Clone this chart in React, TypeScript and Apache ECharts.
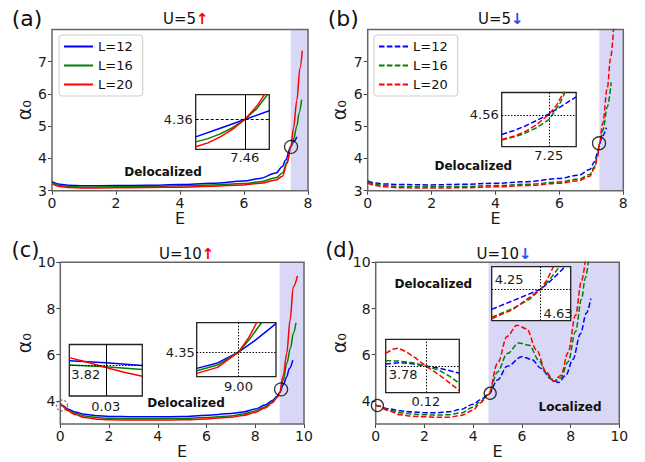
import React, { useEffect, useRef } from 'react';
import * as echarts from 'echarts';

type P = [number, number][];

// ---------- Panel (a): U=5 up ----------
const A_L12: P = [[0,3.28],[0.25,3.2],[0.5,3.17],[1,3.15],[2,3.16],[3,3.17],[4,3.19],[5,3.23],[6,3.3],[6.5,3.38],[7,3.55],[7.2,3.75],[7.3,3.95],[7.46,4.36],[7.55,4.52],[7.65,4.67]];
const A_L16: P = [[0,3.25],[0.25,3.16],[0.5,3.13],[1,3.11],[2,3.12],[3,3.13],[4,3.15],[5,3.18],[6,3.22],[6.5,3.28],[7,3.4],[7.2,3.55],[7.35,3.9],[7.46,4.36],[7.55,4.6],[7.65,5.0],[7.72,5.4],[7.8,5.82]];
const A_L20: P = [[0,3.22],[0.25,3.13],[0.5,3.1],[1,3.08],[2,3.09],[3,3.1],[4,3.11],[5,3.14],[6,3.18],[6.5,3.23],[7,3.33],[7.2,3.45],[7.35,3.85],[7.46,4.36],[7.55,4.95],[7.65,5.8],[7.75,6.8],[7.82,7.34]];
// ---------- Panel (b): U=5 down ----------
const B_L12: P = [[0,3.3],[0.25,3.24],[0.5,3.21],[1,3.19],[2,3.18],[3,3.2],[4,3.23],[5,3.28],[6,3.38],[6.6,3.48],[6.95,3.66],[7.1,3.9],[7.2,4.2],[7.25,4.45],[7.35,4.7],[7.47,4.95]];
const B_L16: P = [[0,3.27],[0.25,3.2],[0.5,3.16],[1,3.13],[2,3.12],[3,3.13],[4,3.16],[5,3.2],[6,3.27],[6.6,3.36],[6.95,3.5],[7.1,3.75],[7.2,4.1],[7.25,4.45],[7.36,4.87],[7.5,5.6],[7.62,6.36]];
const B_L20: P = [[0,3.24],[0.25,3.16],[0.5,3.12],[1,3.09],[2,3.08],[3,3.09],[4,3.12],[5,3.16],[6,3.23],[6.6,3.31],[6.95,3.45],[7.1,3.7],[7.2,4.05],[7.25,4.45],[7.36,5.1],[7.5,6.2],[7.6,7.1],[7.7,8.1]];
// ---------- Panel (c): U=10 up ----------
const C_L12: P = [[0,3.88],[0.1,3.8],[0.3,3.65],[0.6,3.52],[1,3.42],[1.5,3.36],[2,3.33],[3,3.31],[4,3.31],[5,3.32],[6,3.38],[7,3.45],[7.5,3.52],[8,3.65],[8.4,3.82],[8.7,4.02],[8.9,4.2],[9.0,4.35],[9.15,4.7],[9.29,5.04],[9.4,5.4],[9.54,5.76]];
const C_L16: P = [[0,3.86],[0.1,3.77],[0.3,3.6],[0.6,3.46],[1,3.35],[1.5,3.28],[2,3.25],[3,3.23],[4,3.23],[5,3.24],[6,3.28],[7,3.35],[7.5,3.43],[8,3.56],[8.4,3.74],[8.7,3.96],[8.9,4.17],[9.0,4.35],[9.15,4.9],[9.29,5.62],[9.45,6.3],[9.56,6.92],[9.67,7.38]];
const C_L20: P = [[0,3.9],[0.1,3.78],[0.3,3.58],[0.6,3.41],[1,3.28],[1.5,3.21],[2,3.18],[3,3.17],[4,3.17],[5,3.18],[6,3.22],[7,3.29],[7.5,3.37],[8,3.5],[8.4,3.69],[8.7,3.92],[8.9,4.15],[9.0,4.35],[9.15,5.1],[9.29,6.05],[9.43,7.5],[9.56,8.93],[9.73,9.41]];
// ---------- Panel (d): U=10 down ----------
const D_L12: P = [[0,3.82],[0.12,3.78],[0.5,3.66],[1,3.57],[1.5,3.52],[2,3.49],[2.5,3.49],[3,3.53],[3.5,3.63],[4,3.85],[4.3,4.05],[4.63,4.28],[5.0,4.9],[5.4,5.5],[6.0,5.91],[6.4,5.8],[6.8,5.4],[7.2,4.95],[7.5,4.8],[7.8,5.1],[8.1,5.8],[8.4,6.9],[8.65,7.8],[8.83,8.43]];
const D_L16: P = [[0,3.82],[0.12,3.78],[0.5,3.62],[1,3.49],[1.5,3.43],[2,3.4],[2.5,3.39],[3,3.4],[3.5,3.48],[4,3.72],[4.3,3.98],[4.63,4.28],[5.0,5.25],[5.4,6.05],[5.88,6.51],[6.3,6.41],[6.7,5.76],[7.0,5.19],[7.3,4.85],[7.6,5.0],[7.9,5.7],[8.2,7.0],[8.45,8.4],[8.6,9.3],[8.75,10.2]];
const D_L20: P = [[0,3.82],[0.12,3.78],[0.5,3.58],[1,3.4],[1.5,3.34],[2,3.31],[2.5,3.29],[3,3.29],[3.5,3.37],[4,3.6],[4.3,3.92],[4.63,4.28],[5.0,5.62],[5.4,6.8],[5.8,7.28],[6.2,7.12],[6.6,6.2],[7.0,5.26],[7.3,4.86],[7.6,5.1],[7.9,6.1],[8.2,7.7],[8.45,9.2],[8.65,10.5]];

// ---------- Insets ----------
const AI_L12: P = [[7.38,4.29],[7.42,4.325],[7.46,4.36],[7.50,4.395]];
const AI_L16: P = [[7.38,4.27],[7.40,4.283],[7.42,4.302],[7.44,4.327],[7.46,4.36],[7.48,4.405],[7.50,4.47]];
const AI_L20: P = [[7.38,4.25],[7.40,4.266],[7.42,4.29],[7.44,4.32],[7.46,4.36],[7.48,4.415],[7.50,4.49]];
const BI_L12: P = [[7.13,4.437],[7.16,4.46],[7.19,4.49],[7.22,4.525],[7.25,4.565],[7.28,4.61],[7.32,4.673]];
const BI_L16: P = [[7.13,4.402],[7.16,4.42],[7.19,4.445],[7.22,4.48],[7.25,4.53],[7.265,4.58],[7.28,4.64],[7.295,4.72]];
const BI_L20: P = [[7.13,4.406],[7.16,4.425],[7.19,4.455],[7.22,4.5],[7.25,4.562],[7.27,4.62],[7.29,4.71]];
const CI1_L12: P = [[0,3.837],[0.03,3.829],[0.06,3.818]];
const CI1_L16: P = [[0,3.82],[0.03,3.814],[0.06,3.803]];
const CI1_L20: P = [[0,3.849],[0.015,3.831],[0.03,3.811],[0.045,3.792],[0.06,3.777]];
const CI2_L12: P = [[8.90,4.185],[8.95,4.24],[9.0,4.35],[9.04,4.47],[9.09,4.64]];
const CI2_L16: P = [[8.90,4.161],[8.95,4.219],[9.0,4.35],[9.03,4.5],[9.055,4.65]];
const CI2_L20: P = [[8.90,4.134],[8.95,4.195],[9.0,4.35],[9.025,4.5],[9.045,4.66]];
const DI1_L12: P = [[0,3.789],[0.04,3.795],[0.08,3.79],[0.12,3.78],[0.16,3.77],[0.19,3.76],[0.22,3.747]];
const DI1_L16: P = [[0,3.804],[0.04,3.802],[0.08,3.795],[0.12,3.78],[0.16,3.76],[0.19,3.735],[0.22,3.702]];
const DI1_L20: P = [[0,3.837],[0.02,3.855],[0.038,3.86],[0.06,3.845],[0.09,3.815],[0.12,3.78],[0.16,3.74],[0.19,3.705],[0.22,3.67]];
const DI2_L12: P = [[4.50,4.09],[4.565,4.17],[4.63,4.25],[4.665,4.34],[4.695,4.43]];
const DI2_L16: P = [[4.50,4.027],[4.557,4.098],[4.60,4.17],[4.63,4.25],[4.655,4.33],[4.68,4.43]];
const DI2_L20: P = [[4.50,4.016],[4.557,4.09],[4.593,4.17],[4.63,4.25],[4.648,4.33],[4.664,4.43]];

// crossing points (inset tick labels) [E, alpha]
const A_CROSS = [7.46, 4.36];
const B_CROSS = [7.25, 4.56];
const C_CROSS1 = [0.03, 3.82];
const C_CROSS2 = [9.0, 4.35];
const D_CROSS1 = [0.12, 3.78];
const D_CROSS2 = [4.63, 4.25];

// mobility edges (shaded from here)
const EDGES = [7.46, 7.25, 9.0, 4.63];
// circled points
const A_CIRC: P = [[7.47, 4.36]];
const B_CIRC: P = [[7.24, 4.47]];
const C_CIRC: P = [[9.06, 4.5]];
const C_CIRC_DASH: P = [[0.07, 3.8]];
const D_CIRC: P = [[0.07, 3.8], [4.7, 4.33]];

const NAMES = ['L=12', 'L=16', 'L=20'];
const NAMES_DOWN = ['L=12↓', 'L=16↓', 'L=20↓'];
const TOP_YTICKS = [3, 4, 5, 6, 7];
const BOT_YTICKS = [4, 6, 8, 10];

const FONT = 'DejaVu Sans';
const COLORS = ['#0000ff', '#008000', '#ff0000'];
const SHADE = '#d8d8f6';
const DASH = [5.5, 2.4];
const DOT = [1.5, 1.6];

function lineS(name: string, data: P, color: string, gi: number, dashed: boolean, z: number, extra: any = {}) {
  return {
    type: 'line', name, data, xAxisIndex: gi, yAxisIndex: gi,
    symbol: 'none', showSymbol: false, smooth: 0.35, smoothMonotone: 'x',
    lineStyle: { color, width: 1.5, type: dashed ? DASH : 'solid' },
    itemStyle: { color }, z, clip: true, silent: true, animation: false,
    ...extra,
  };
}

function buildOption() {
  const grids: any[] = [
    { left: 52, top: 29.5, width: 256, height: 161.2 },
    { left: 367.7, top: 29.5, width: 255.6, height: 161.2 },
    { left: 60.3, top: 262.3, width: 243.7, height: 161.7 },
    { left: 375.7, top: 262.3, width: 243.6, height: 161.7 },
    { left: 195.7, top: 94.7, width: 73.6, height: 54.6 },
    { left: 501.7, top: 92.5, width: 74.5, height: 54.2 },
    { left: 69.3, top: 344.5, width: 73, height: 51.5 },
    { left: 196.7, top: 322.7, width: 79.3, height: 54 },
    { left: 385.7, top: 339.3, width: 73.6, height: 53.4 },
    { left: 491.7, top: 266.7, width: 79, height: 54 },
  ].map((g, i) => i < 4
    ? { ...g, show: true, borderColor: '#666', borderWidth: 1.5, backgroundColor: 'transparent', z: 2 }
    : { ...g, show: true, borderColor: '#222', borderWidth: 1.3, backgroundColor: '#fff', z: 10 });

  const lab = { fontSize: 14, color: '#1a1a1a', fontFamily: FONT };
  const mainX = (gi: number, max: number) => ({
    gridIndex: gi, type: 'value', min: 0, max, interval: 2,
    axisLine: { show: false }, splitLine: { show: false },
    axisTick: { show: true, length: 4, lineStyle: { color: '#444', width: 1 } },
    axisLabel: { ...lab, margin: 5 },
    name: 'E', nameLocation: 'middle', nameGap: 19,
    nameTextStyle: { fontSize: 16, color: '#1a1a1a', fontFamily: FONT },
  });
  const mainY = (gi: number, max: number, ticks: number[]) => ({
    gridIndex: gi, type: 'value', min: 3, max,
    axisLine: { show: false }, splitLine: { show: false },
    axisTick: { show: true, length: 4, lineStyle: { color: '#444', width: 1 }, customValues: ticks },
    axisLabel: { ...lab, margin: 5, customValues: ticks },
    name: 'α₀', nameLocation: 'middle', nameGap: 19,
    nameTextStyle: { fontSize: 19, color: '#1a1a1a', fontFamily: FONT },
  });
  const insetX = (gi: number, min: number, max: number, v: number, lbl: any = {}) => ({
    gridIndex: gi, type: 'value', min, max, z: 12,
    axisLine: { show: false }, splitLine: { show: false }, axisTick: { show: false },
    axisLabel: { fontSize: 13, color: '#1a1a1a', fontFamily: FONT, margin: 2, customValues: [v], formatter: (x: number) => x.toFixed(2), ...lbl },
  });
  const insetY = (gi: number, min: number, max: number, v: number, lbl: any = {}) => ({
    gridIndex: gi, type: 'value', min, max, z: 12,
    axisLine: { show: false }, splitLine: { show: false }, axisTick: { show: false },
    axisLabel: { fontSize: 13, color: '#1a1a1a', fontFamily: FONT, margin: 3, customValues: [v], formatter: (x: number) => x.toFixed(2), ...lbl },
  });

  const xAxis = [
    mainX(0, 8), mainX(1, 8), mainX(2, 10), mainX(3, 10),
    insetX(4, 7.38, 7.50, A_CROSS[0]),
    insetX(5, 7.13, 7.32, B_CROSS[0]),
    insetX(6, 0, 0.06, C_CROSS1[0], { margin: 4 }),
    insetX(7, 8.90, 9.09, C_CROSS2[0], { margin: 3 }),
    insetX(8, 0, 0.22, D_CROSS1[0]),
    insetX(9, 4.50, 4.71, D_CROSS2[0], { inside: true, align: 'left', padding: [0, 0, 0, 3], margin: 1 }),
  ];
  const yAxis = [
    mainY(0, 8, TOP_YTICKS), mainY(1, 8, TOP_YTICKS), mainY(2, 10, BOT_YTICKS), mainY(3, 10, BOT_YTICKS),
    insetY(4, 4.24, 4.46, A_CROSS[1]),
    insetY(5, 4.36, 4.70, B_CROSS[1]),
    insetY(6, 3.70, 3.90, C_CROSS1[1], { inside: true, verticalAlign: 'top', padding: [3, 0, 0, 0], margin: 2 }),
    insetY(7, 4.10, 4.65, C_CROSS2[1], { margin: 2 }),
    insetY(8, 3.66, 3.90, D_CROSS1[1], { inside: true, verticalAlign: 'top', padding: [2, 0, 0, 0], margin: 3 }),
    insetY(9, 4.00, 4.43, D_CROSS2[1], { inside: true, verticalAlign: 'bottom', padding: [0, 0, 3, 0], margin: 3 }),
  ];

  const series: any[] = [];
  // shading
  const shadeMax = [8, 8, 10, 10];
  for (let i = 0; i < 4; i++) {
    series.push({
      type: 'line', data: [], xAxisIndex: i, yAxisIndex: i, z: 1, silent: true,
      markArea: { silent: true, z: 1, itemStyle: { color: SHADE }, data: [[{ xAxis: EDGES[i] }, { xAxis: shadeMax[i] }]] },
    });
  }
  const mains: [P[], string[], boolean][] = [
    [[A_L12, A_L16, A_L20], NAMES, false],
    [[B_L12, B_L16, B_L20], NAMES_DOWN, true],
    [[C_L12, C_L16, C_L20], NAMES, false],
    [[D_L12, D_L16, D_L20], NAMES_DOWN, true],
  ];
  mains.forEach(([sets, names, dashed], gi) => {
    sets.forEach((d, k) => series.push(lineS(names[k], d, COLORS[k], gi, dashed, 3)));
  });

  const insets: [number, P[], boolean, number[], any, any][] = [
    [4, [AI_L12, AI_L16, AI_L20], false, A_CROSS, 'solid', [3, 2]],
    [5, [BI_L12, BI_L16, BI_L20], true, B_CROSS, DOT, DOT],
    [6, [CI1_L12, CI1_L16, CI1_L20], false, C_CROSS1, 'solid', DOT],
    [7, [CI2_L12, CI2_L16, CI2_L20], false, C_CROSS2, DOT, DOT],
    [8, [DI1_L12, DI1_L16, DI1_L20], true, D_CROSS1, DOT, DOT],
    [9, [DI2_L12, DI2_L16, DI2_L20], true, D_CROSS2, DOT, DOT],
  ];
  insets.forEach(([gi, sets, dashed, cross, vType, hType]) => {
    sets.forEach((d, k) => {
      const extra: any = { smooth: false };
      if (k === 0) {
        extra.markLine = {
          silent: true, symbol: 'none', animation: false, z: 13, label: { show: false },
          lineStyle: { color: '#000', width: 1 },
          data: [
            { xAxis: cross[0], lineStyle: { color: '#000', width: 1, type: vType } },
            { yAxis: cross[1], lineStyle: { color: '#000', width: 1, type: hType } },
          ],
        };
      }
      series.push(lineS('inset' + gi + '-' + k, d, COLORS[k], gi, dashed, 11, extra));
    });
  });

  const circ = (gi: number, data: P, dashed = false, size = 13, color = '#000') => ({
    type: 'scatter', data, xAxisIndex: gi, yAxisIndex: gi, z: 5, silent: true,
    symbol: 'circle', symbolSize: size,
    itemStyle: { color: 'rgba(0,0,0,0)', borderColor: color, borderWidth: 1.3, borderType: dashed ? [2, 2] : 'solid' },
  });
  series.push(circ(0, A_CIRC), circ(1, B_CIRC), circ(2, C_CIRC), circ(2, C_CIRC_DASH, true, 11, '#555'), circ(3, D_CIRC, false, 12));

  const legendBase = {
    orient: 'vertical', itemWidth: 29, itemHeight: 14, itemGap: 6, padding: [5, 10, 5, 4],
    borderColor: '#cccccc', borderWidth: 1, borderRadius: 3, backgroundColor: 'rgba(255,255,255,0.85)',
    itemStyle: { opacity: 0 },
    textStyle: { fontSize: 13, fontFamily: FONT, color: '#111' }, selectedMode: false, z: 20,
  };
  const legend = [
    { ...legendBase, data: NAMES, left: 59, top: 35 },
    { ...legendBase, data: NAMES_DOWN, left: 374, top: 35, formatter: (n: string) => n.replace('↓', '') },
  ];

  const txt = (x: number, y: number, text: string, font: string) => ({
    type: 'text', x, y, z: 30, silent: true,
    style: { text, font, fill: '#111', align: 'center', verticalAlign: 'middle' },
  });
  const title = (x: number, y: number, main: string, arrow: string, col: string) => ({
    type: 'text', x, y, z: 30, silent: true,
    style: {
      text: `{n|${main}}{r|${arrow}}`, align: 'center', verticalAlign: 'middle',
      rich: {
        n: { fontSize: 15, fontFamily: FONT, fill: '#111' },
        r: { fontSize: 15, fontFamily: FONT, fill: col, fontWeight: 'bold' },
      },
    },
  });
  const graphic = [
    txt(27, 18, '(a)', `22px ${FONT}`),
    txt(343.2, 18, '(b)', `22px ${FONT}`),
    txt(25.5, 250, '(c)', `21px ${FONT}`),
    txt(340, 250, '(d)', `21px ${FONT}`),
    title(185.8, 19, 'U=5', '↑', '#ff0000'),
    title(500.8, 19, 'U=5', '↓', '#1f4fff'),
    title(186.7, 253.5, 'U=10', '↑', '#ff0000'),
    title(504, 253.5, 'U=10', '↓', '#1f4fff'),
    txt(163, 172, 'Delocalized', `bold 12px ${FONT}`),
    txt(473.3, 165.7, 'Delocalized', `bold 12px ${FONT}`),
    txt(186, 403.3, 'Delocalized', `bold 12px ${FONT}`),
    txt(433.3, 284, 'Delocalized', `bold 12px ${FONT}`),
    txt(570, 407.3, 'Localized', `bold 12px ${FONT}`),
  ];

  return {
    animation: false,
    backgroundColor: '#ffffff',
    textStyle: { fontFamily: FONT },
    grid: grids, xAxis, yAxis, series, legend, graphic,
  };
}

export default function App() {
  const ref = useRef<HTMLDivElement>(null);
  useEffect(() => {
    if (!ref.current) return;
    const chart = echarts.init(ref.current, undefined, { renderer: 'svg' });
    chart.setOption(buildOption() as any);
    return () => chart.dispose();
  }, []);
  return <div ref={ref} style={{ position: 'fixed', left: 0, top: 0, width: 645, height: 462, background: '#fff' }} />;
}
